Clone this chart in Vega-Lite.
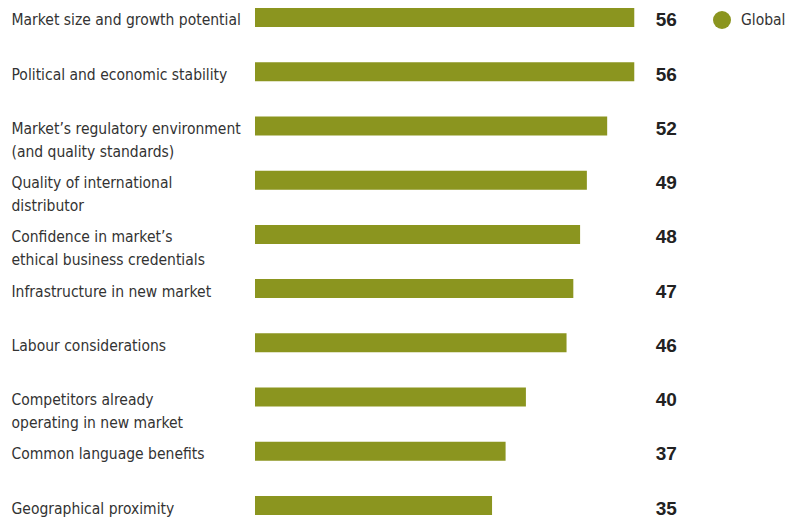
{
  "$schema": "https://vega.github.io/schema/vega-lite/v6.json",
  "width": 447,
  "height": 523,
  "padding": {"left": 255, "top": 0, "right": 96, "bottom": 0},
  "autosize": {"type": "none"},
  "background": "white",
  "config": {"view": {"stroke": null}, "font": "DejaVu Sans Condensed"},
  "data": {"values": [
    {"factor": "Market size and growth potential", "value": 56, "series": "Global"},
    {"factor": "Political and economic stability", "value": 56, "series": "Global"},
    {"factor": "Market’s regulatory environment|(and quality standards)", "value": 52, "series": "Global"},
    {"factor": "Quality of international|distributor", "value": 49, "series": "Global"},
    {"factor": "Confidence in market’s|ethical business credentials", "value": 48, "series": "Global"},
    {"factor": "Infrastructure in new market", "value": 47, "series": "Global"},
    {"factor": "Labour considerations", "value": 46, "series": "Global"},
    {"factor": "Competitors already|operating in new market", "value": 40, "series": "Global"},
    {"factor": "Common language benefits", "value": 37, "series": "Global"},
    {"factor": "Geographical proximity", "value": 35, "series": "Global"}
  ]},
  "encoding": {
    "y": {
      "field": "factor", "type": "nominal", "sort": null,
      "scale": {"paddingInner": 0.65, "paddingOuter": 0.147},
      "axis": {
        "title": null, "ticks": false, "domain": false,
        "labelAlign": "left", "labelPadding": 244, "labelLimit": 400,
        "labelFontSize": 15.5, "labelColor": "#333333", "labelBaseline": "alphabetic",
        "labelOffset": 8, "labelLineHeight": 23,
        "labelExpr": "split(datum.value, '|')"
      }
    }
  },
  "layer": [
    {
      "mark": {"type": "bar"},
      "encoding": {
        "x": {"field": "value", "type": "quantitative", "scale": {"domain": [0, 66], "nice": false}, "axis": null},
        "color": {
          "field": "series", "type": "nominal",
          "scale": {"range": ["#8b951f"]},
          "legend": {
            "title": null, "orient": "none", "legendX": 458, "legendY": 11,
            "symbolType": "circle", "symbolSize": 324, "symbolStrokeWidth": 0,
            "labelFontSize": 15.5, "labelColor": "#333333", "labelOffset": 10
          }
        }
      }
    },
    {
      "mark": {"type": "text", "align": "right", "baseline": "middle", "fontWeight": "bold", "fontSize": 19, "color": "#222222", "font": "Liberation Sans", "dy": 3},
      "encoding": {
        "x": {"datum": 62.3, "type": "quantitative"},
        "text": {"field": "value", "type": "quantitative"}
      }
    }
  ]
}
